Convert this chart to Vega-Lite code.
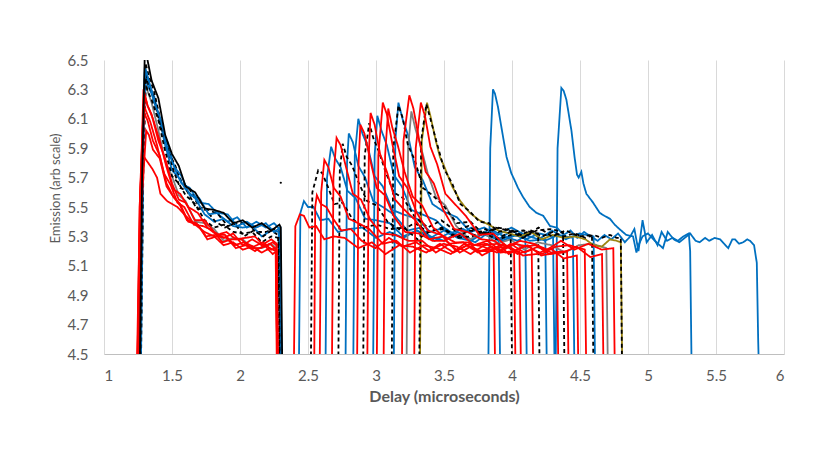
{
  "$schema": "https://vega.github.io/schema/vega-lite/v6.json",
  "autosize": "none",
  "width": 680,
  "height": 294,
  "padding": {"left": 104, "top": 60, "right": 46, "bottom": 113},
  "background": "white",
  "config": {
    "view": {"stroke": null},
    "font": "Lato",
    "axis": {"labelFont": "Lato", "titleFont": "Lato", "labelColor": "#595959", "titleColor": "#595959"}
  },
  "data": {
    "values": [
      {"k":1,"c":"g","x":1.255,"y":4.3},{"k":1,"c":"g","x":1.28,"y":5.8},{"k":1,"c":"g","x":1.30,"y":6.35},{"k":1,"c":"g","x":1.32,"y":6.29},{"k":1,"c":"g","x":1.35,"y":6.21},{"k":1,"c":"g","x":1.40,"y":6.02},{"k":1,"c":"g","x":1.45,"y":5.81},{"k":1,"c":"g","x":1.50,"y":5.71},{"k":1,"c":"g","x":1.55,"y":5.58},{"k":1,"c":"g","x":1.60,"y":5.54},{"k":1,"c":"g","x":1.67,"y":5.40},{"k":1,"c":"g","x":1.74,"y":5.39},{"k":1,"c":"g","x":1.81,"y":5.35},{"k":1,"c":"g","x":1.88,"y":5.27},{"k":1,"c":"g","x":1.95,"y":5.29},{"k":1,"c":"g","x":2.02,"y":5.28},{"k":1,"c":"g","x":2.09,"y":5.22},{"k":1,"c":"g","x":2.16,"y":5.22},{"k":1,"c":"g","x":2.23,"y":5.25},{"k":1,"c":"g","x":2.265,"y":5.22},{"k":1,"c":"g","x":2.275,"y":4.3},
      {"k":2,"c":"b","x":1.258,"y":4.3},{"k":2,"c":"b","x":1.278,"y":5.6},{"k":2,"c":"b","x":1.30,"y":6.45},{"k":2,"c":"b","x":1.33,"y":6.34},{"k":2,"c":"b","x":1.37,"y":6.25},{"k":2,"c":"b","x":1.42,"y":6.05},{"k":2,"c":"b","x":1.47,"y":5.93},{"k":2,"c":"b","x":1.52,"y":5.76},{"k":2,"c":"b","x":1.57,"y":5.66},{"k":2,"c":"b","x":1.63,"y":5.63},{"k":2,"c":"b","x":1.70,"y":5.53},{"k":2,"c":"b","x":1.77,"y":5.52},{"k":2,"c":"b","x":1.84,"y":5.45},{"k":2,"c":"b","x":1.91,"y":5.40},{"k":2,"c":"b","x":1.98,"y":5.43},{"k":2,"c":"b","x":2.05,"y":5.36},{"k":2,"c":"b","x":2.12,"y":5.40},{"k":2,"c":"b","x":2.19,"y":5.36},{"k":2,"c":"b","x":2.25,"y":5.39},{"k":2,"c":"b","x":2.29,"y":5.35},{"k":2,"c":"b","x":2.30,"y":4.3},
      {"k":3,"c":"d","x":1.268,"y":4.3},{"k":3,"c":"d","x":1.288,"y":5.8},{"k":3,"c":"d","x":1.305,"y":6.48},{"k":3,"c":"d","x":1.33,"y":6.39},{"k":3,"c":"d","x":1.37,"y":6.28},{"k":3,"c":"d","x":1.42,"y":6.07},{"k":3,"c":"d","x":1.47,"y":5.88},{"k":3,"c":"d","x":1.52,"y":5.79},{"k":3,"c":"d","x":1.57,"y":5.67},{"k":3,"c":"d","x":1.63,"y":5.62},{"k":3,"c":"d","x":1.70,"y":5.50},{"k":3,"c":"d","x":1.77,"y":5.48},{"k":3,"c":"d","x":1.84,"y":5.45},{"k":3,"c":"d","x":1.91,"y":5.37},{"k":3,"c":"d","x":1.98,"y":5.39},{"k":3,"c":"d","x":2.05,"y":5.39},{"k":3,"c":"d","x":2.12,"y":5.33},{"k":3,"c":"d","x":2.19,"y":5.33},{"k":3,"c":"d","x":2.25,"y":5.35},{"k":3,"c":"d","x":2.293,"y":5.33},{"k":3,"c":"d","x":2.303,"y":4.3},
      {"k":4,"c":"b","x":1.262,"y":4.3},{"k":4,"c":"b","x":1.283,"y":5.7},{"k":4,"c":"b","x":1.30,"y":6.42},{"k":4,"c":"b","x":1.32,"y":6.33},{"k":4,"c":"b","x":1.35,"y":6.27},{"k":4,"c":"b","x":1.40,"y":6.13},{"k":4,"c":"b","x":1.45,"y":5.92},{"k":4,"c":"b","x":1.50,"y":5.75},{"k":4,"c":"b","x":1.55,"y":5.70},{"k":4,"c":"b","x":1.60,"y":5.62},{"k":4,"c":"b","x":1.67,"y":5.56},{"k":4,"c":"b","x":1.74,"y":5.45},{"k":4,"c":"b","x":1.81,"y":5.40},{"k":4,"c":"b","x":1.88,"y":5.42},{"k":4,"c":"b","x":1.95,"y":5.37},{"k":4,"c":"b","x":2.02,"y":5.36},{"k":4,"c":"b","x":2.09,"y":5.37},{"k":4,"c":"b","x":2.16,"y":5.30},{"k":4,"c":"b","x":2.23,"y":5.34},{"k":4,"c":"b","x":2.285,"y":5.33},{"k":4,"c":"b","x":2.295,"y":4.3},
      {"k":5,"c":"d","x":1.27,"y":4.3},{"k":5,"c":"d","x":1.29,"y":5.8},{"k":5,"c":"d","x":1.31,"y":6.40},{"k":5,"c":"d","x":1.33,"y":6.32},{"k":5,"c":"d","x":1.36,"y":6.26},{"k":5,"c":"d","x":1.41,"y":6.07},{"k":5,"c":"d","x":1.46,"y":5.94},{"k":5,"c":"d","x":1.51,"y":5.75},{"k":5,"c":"d","x":1.56,"y":5.63},{"k":5,"c":"d","x":1.61,"y":5.61},{"k":5,"c":"d","x":1.68,"y":5.49},{"k":5,"c":"d","x":1.75,"y":5.48},{"k":5,"c":"d","x":1.82,"y":5.40},{"k":5,"c":"d","x":1.89,"y":5.36},{"k":5,"c":"d","x":1.96,"y":5.39},{"k":5,"c":"d","x":2.03,"y":5.30},{"k":5,"c":"d","x":2.10,"y":5.34},{"k":5,"c":"d","x":2.17,"y":5.30},{"k":5,"c":"d","x":2.23,"y":5.34},{"k":5,"c":"d","x":2.28,"y":5.31},{"k":5,"c":"d","x":2.29,"y":4.3},
      {"k":6,"c":"b","x":1.27,"y":4.3},{"k":6,"c":"b","x":1.29,"y":5.9},{"k":6,"c":"b","x":1.305,"y":6.44},{"k":6,"c":"b","x":1.33,"y":6.36},{"k":6,"c":"b","x":1.37,"y":6.21},{"k":6,"c":"b","x":1.42,"y":6.09},{"k":6,"c":"b","x":1.47,"y":5.88},{"k":6,"c":"b","x":1.52,"y":5.77},{"k":6,"c":"b","x":1.57,"y":5.71},{"k":6,"c":"b","x":1.63,"y":5.58},{"k":6,"c":"b","x":1.70,"y":5.56},{"k":6,"c":"b","x":1.77,"y":5.45},{"k":6,"c":"b","x":1.84,"y":5.46},{"k":6,"c":"b","x":1.91,"y":5.45},{"k":6,"c":"b","x":1.98,"y":5.37},{"k":6,"c":"b","x":2.05,"y":5.40},{"k":6,"c":"b","x":2.12,"y":5.36},{"k":6,"c":"b","x":2.19,"y":5.39},{"k":6,"c":"b","x":2.25,"y":5.33},{"k":6,"c":"b","x":2.297,"y":5.36},{"k":6,"c":"b","x":2.307,"y":4.3},
      {"k":7,"c":"d","x":1.265,"y":4.3},{"k":7,"c":"d","x":1.285,"y":5.8},{"k":7,"c":"d","x":1.30,"y":6.38},{"k":7,"c":"d","x":1.32,"y":6.29},{"k":7,"c":"d","x":1.35,"y":6.23},{"k":7,"c":"d","x":1.40,"y":6.09},{"k":7,"c":"d","x":1.45,"y":5.88},{"k":7,"c":"d","x":1.50,"y":5.71},{"k":7,"c":"d","x":1.55,"y":5.66},{"k":7,"c":"d","x":1.60,"y":5.58},{"k":7,"c":"d","x":1.67,"y":5.52},{"k":7,"c":"d","x":1.74,"y":5.41},{"k":7,"c":"d","x":1.81,"y":5.36},{"k":7,"c":"d","x":1.88,"y":5.38},{"k":7,"c":"d","x":1.95,"y":5.33},{"k":7,"c":"d","x":2.02,"y":5.32},{"k":7,"c":"d","x":2.09,"y":5.33},{"k":7,"c":"d","x":2.16,"y":5.26},{"k":7,"c":"d","x":2.23,"y":5.30},{"k":7,"c":"d","x":2.283,"y":5.29},{"k":7,"c":"d","x":2.293,"y":4.3},
      {"k":8,"c":"r","x":1.243,"y":4.3},{"k":8,"c":"r","x":1.265,"y":5.5},{"k":8,"c":"r","x":1.29,"y":6.20},{"k":8,"c":"r","x":1.31,"y":6.15},{"k":8,"c":"r","x":1.34,"y":6.08},{"k":8,"c":"r","x":1.39,"y":5.92},{"k":8,"c":"r","x":1.44,"y":5.73},{"k":8,"c":"r","x":1.49,"y":5.65},{"k":8,"c":"r","x":1.54,"y":5.53},{"k":8,"c":"r","x":1.59,"y":5.50},{"k":8,"c":"r","x":1.66,"y":5.38},{"k":8,"c":"r","x":1.73,"y":5.37},{"k":8,"c":"r","x":1.80,"y":5.34},{"k":8,"c":"r","x":1.87,"y":5.26},{"k":8,"c":"r","x":1.94,"y":5.28},{"k":8,"c":"r","x":2.01,"y":5.28},{"k":8,"c":"r","x":2.08,"y":5.22},{"k":8,"c":"r","x":2.15,"y":5.22},{"k":8,"c":"r","x":2.22,"y":5.25},{"k":8,"c":"r","x":2.265,"y":5.21},{"k":8,"c":"r","x":2.275,"y":4.3},
      {"k":9,"c":"r","x":1.245,"y":4.3},{"k":9,"c":"r","x":1.268,"y":5.6},{"k":9,"c":"r","x":1.29,"y":6.30},{"k":9,"c":"r","x":1.32,"y":6.19},{"k":9,"c":"r","x":1.36,"y":6.10},{"k":9,"c":"r","x":1.41,"y":5.95},{"k":9,"c":"r","x":1.46,"y":5.77},{"k":9,"c":"r","x":1.51,"y":5.62},{"k":9,"c":"r","x":1.56,"y":5.59},{"k":9,"c":"r","x":1.62,"y":5.50},{"k":9,"c":"r","x":1.69,"y":5.46},{"k":9,"c":"r","x":1.76,"y":5.36},{"k":9,"c":"r","x":1.83,"y":5.31},{"k":9,"c":"r","x":1.90,"y":5.33},{"k":9,"c":"r","x":1.97,"y":5.28},{"k":9,"c":"r","x":2.04,"y":5.29},{"k":9,"c":"r","x":2.11,"y":5.30},{"k":9,"c":"r","x":2.18,"y":5.23},{"k":9,"c":"r","x":2.24,"y":5.26},{"k":9,"c":"r","x":2.268,"y":5.24},{"k":9,"c":"r","x":2.278,"y":4.3},
      {"k":10,"c":"r","x":1.25,"y":4.3},{"k":10,"c":"r","x":1.275,"y":5.5},{"k":10,"c":"r","x":1.31,"y":6.02},{"k":10,"c":"r","x":1.33,"y":5.99},{"k":10,"c":"r","x":1.36,"y":5.89},{"k":10,"c":"r","x":1.41,"y":5.83},{"k":10,"c":"r","x":1.46,"y":5.64},{"k":10,"c":"r","x":1.51,"y":5.57},{"k":10,"c":"r","x":1.56,"y":5.51},{"k":10,"c":"r","x":1.61,"y":5.41},{"k":10,"c":"r","x":1.68,"y":5.39},{"k":10,"c":"r","x":1.75,"y":5.30},{"k":10,"c":"r","x":1.82,"y":5.31},{"k":10,"c":"r","x":1.89,"y":5.31},{"k":10,"c":"r","x":1.96,"y":5.24},{"k":10,"c":"r","x":2.03,"y":5.26},{"k":10,"c":"r","x":2.10,"y":5.23},{"k":10,"c":"r","x":2.17,"y":5.26},{"k":10,"c":"r","x":2.23,"y":5.21},{"k":10,"c":"r","x":2.262,"y":5.22},{"k":10,"c":"r","x":2.272,"y":4.3},
      {"k":11,"c":"r","x":1.245,"y":4.3},{"k":11,"c":"r","x":1.262,"y":5.5},{"k":11,"c":"r","x":1.28,"y":5.86},{"k":11,"c":"r","x":1.31,"y":5.82},{"k":11,"c":"r","x":1.355,"y":5.76},{"k":11,"c":"r","x":1.39,"y":5.70},{"k":11,"c":"r","x":1.415,"y":5.59},{"k":11,"c":"r","x":1.465,"y":5.54},{"k":11,"c":"r","x":1.54,"y":5.50},{"k":11,"c":"r","x":1.60,"y":5.44},{"k":11,"c":"r","x":1.67,"y":5.38},{"k":11,"c":"r","x":1.74,"y":5.33},{"k":11,"c":"r","x":1.81,"y":5.30},{"k":11,"c":"r","x":1.88,"y":5.24},{"k":11,"c":"r","x":1.95,"y":5.26},{"k":11,"c":"r","x":2.02,"y":5.21},{"k":11,"c":"r","x":2.09,"y":5.23},{"k":11,"c":"r","x":2.16,"y":5.19},{"k":11,"c":"r","x":2.22,"y":5.22},{"k":11,"c":"r","x":2.265,"y":5.20},{"k":11,"c":"r","x":2.275,"y":4.3},
      {"k":12,"c":"r","x":1.25,"y":4.3},{"k":12,"c":"r","x":1.275,"y":5.7},{"k":12,"c":"r","x":1.30,"y":6.26},{"k":12,"c":"r","x":1.32,"y":6.19},{"k":12,"c":"r","x":1.35,"y":6.13},{"k":12,"c":"r","x":1.40,"y":5.95},{"k":12,"c":"r","x":1.45,"y":5.83},{"k":12,"c":"r","x":1.50,"y":5.66},{"k":12,"c":"r","x":1.55,"y":5.55},{"k":12,"c":"r","x":1.60,"y":5.53},{"k":12,"c":"r","x":1.67,"y":5.41},{"k":12,"c":"r","x":1.74,"y":5.41},{"k":12,"c":"r","x":1.81,"y":5.33},{"k":12,"c":"r","x":1.88,"y":5.29},{"k":12,"c":"r","x":1.95,"y":5.32},{"k":12,"c":"r","x":2.02,"y":5.24},{"k":12,"c":"r","x":2.09,"y":5.28},{"k":12,"c":"r","x":2.16,"y":5.24},{"k":12,"c":"r","x":2.23,"y":5.28},{"k":12,"c":"r","x":2.27,"y":5.25},{"k":12,"c":"r","x":2.28,"y":4.3},
      {"k":13,"c":"r","x":1.24,"y":4.3},{"k":13,"c":"r","x":1.265,"y":5.6},{"k":13,"c":"r","x":1.29,"y":6.15},{"k":13,"c":"r","x":1.32,"y":6.09},{"k":13,"c":"r","x":1.36,"y":5.95},{"k":13,"c":"r","x":1.41,"y":5.85},{"k":13,"c":"r","x":1.46,"y":5.66},{"k":13,"c":"r","x":1.51,"y":5.57},{"k":13,"c":"r","x":1.56,"y":5.52},{"k":13,"c":"r","x":1.62,"y":5.40},{"k":13,"c":"r","x":1.69,"y":5.38},{"k":13,"c":"r","x":1.76,"y":5.28},{"k":13,"c":"r","x":1.83,"y":5.30},{"k":13,"c":"r","x":1.90,"y":5.29},{"k":13,"c":"r","x":1.97,"y":5.22},{"k":13,"c":"r","x":2.04,"y":5.24},{"k":13,"c":"r","x":2.11,"y":5.20},{"k":13,"c":"r","x":2.18,"y":5.24},{"k":13,"c":"r","x":2.24,"y":5.18},{"k":13,"c":"r","x":2.27,"y":5.20},{"k":13,"c":"r","x":2.28,"y":4.3},
      {"k":14,"c":"k","x":1.262,"y":4.3},{"k":14,"c":"k","x":1.28,"y":5.7},{"k":14,"c":"k","x":1.30,"y":6.55},{"k":14,"c":"k","x":1.32,"y":6.50},{"k":14,"c":"k","x":1.35,"y":6.36},{"k":14,"c":"k","x":1.40,"y":6.24},{"k":14,"c":"k","x":1.45,"y":5.99},{"k":14,"c":"k","x":1.50,"y":5.86},{"k":14,"c":"k","x":1.55,"y":5.78},{"k":14,"c":"k","x":1.60,"y":5.64},{"k":14,"c":"k","x":1.67,"y":5.60},{"k":14,"c":"k","x":1.74,"y":5.49},{"k":14,"c":"k","x":1.81,"y":5.48},{"k":14,"c":"k","x":1.88,"y":5.46},{"k":14,"c":"k","x":1.95,"y":5.39},{"k":14,"c":"k","x":2.02,"y":5.41},{"k":14,"c":"k","x":2.09,"y":5.36},{"k":14,"c":"k","x":2.16,"y":5.39},{"k":14,"c":"k","x":2.23,"y":5.34},{"k":14,"c":"k","x":2.29,"y":5.38},{"k":14,"c":"k","x":2.30,"y":5.36},{"k":14,"c":"k","x":2.312,"y":4.3},
      {"k":15,"c":"b","x":2.432,"y":4.3},{"k":15,"c":"b","x":2.444,"y":5.46},{"k":15,"c":"b","x":2.47,"y":5.54},{"k":15,"c":"b","x":2.50,"y":5.50},{"k":15,"c":"b","x":2.54,"y":5.50},{"k":15,"c":"b","x":2.59,"y":5.41},{"k":15,"c":"b","x":2.65,"y":5.42},{"k":15,"c":"b","x":2.72,"y":5.33},{"k":15,"c":"b","x":2.80,"y":5.35},{"k":15,"c":"b","x":2.90,"y":5.36},{"k":15,"c":"b","x":3.00,"y":5.29},{"k":15,"c":"b","x":3.10,"y":5.33},{"k":15,"c":"b","x":3.20,"y":5.29},{"k":15,"c":"b","x":3.30,"y":5.34},{"k":15,"c":"b","x":3.40,"y":5.30},{"k":15,"c":"b","x":3.50,"y":5.27},{"k":15,"c":"b","x":3.60,"y":5.33},{"k":15,"c":"b","x":3.70,"y":5.28},{"k":15,"c":"b","x":3.80,"y":5.32},{"k":15,"c":"b","x":3.902,"y":5.29},{"k":15,"c":"b","x":3.914,"y":4.3},
      {"k":16,"c":"b","x":2.628,"y":4.3},{"k":16,"c":"b","x":2.64,"y":5.70},{"k":16,"c":"b","x":2.67,"y":5.91},{"k":16,"c":"b","x":2.70,"y":5.83},{"k":16,"c":"b","x":2.74,"y":5.77},{"k":16,"c":"b","x":2.79,"y":5.61},{"k":16,"c":"b","x":2.85,"y":5.56},{"k":16,"c":"b","x":2.92,"y":5.42},{"k":16,"c":"b","x":3.00,"y":5.41},{"k":16,"c":"b","x":3.10,"y":5.39},{"k":16,"c":"b","x":3.20,"y":5.30},{"k":16,"c":"b","x":3.30,"y":5.34},{"k":16,"c":"b","x":3.40,"y":5.29},{"k":16,"c":"b","x":3.50,"y":5.34},{"k":16,"c":"b","x":3.60,"y":5.29},{"k":16,"c":"b","x":3.70,"y":5.27},{"k":16,"c":"b","x":3.80,"y":5.33},{"k":16,"c":"b","x":3.90,"y":5.27},{"k":16,"c":"b","x":4.00,"y":5.31},{"k":16,"c":"b","x":4.098,"y":5.29},{"k":16,"c":"b","x":4.11,"y":4.3},
      {"k":17,"c":"b","x":2.775,"y":4.3},{"k":17,"c":"b","x":2.787,"y":5.80},{"k":17,"c":"b","x":2.80,"y":6.00},{"k":17,"c":"b","x":2.83,"y":5.94},{"k":17,"c":"b","x":2.87,"y":5.78},{"k":17,"c":"b","x":2.92,"y":5.70},{"k":17,"c":"b","x":2.98,"y":5.54},{"k":17,"c":"b","x":3.05,"y":5.50},{"k":17,"c":"b","x":3.13,"y":5.45},{"k":17,"c":"b","x":3.23,"y":5.34},{"k":17,"c":"b","x":3.33,"y":5.36},{"k":17,"c":"b","x":3.43,"y":5.27},{"k":17,"c":"b","x":3.53,"y":5.32},{"k":17,"c":"b","x":3.63,"y":5.30},{"k":17,"c":"b","x":3.73,"y":5.26},{"k":17,"c":"b","x":3.83,"y":5.33},{"k":17,"c":"b","x":3.93,"y":5.27},{"k":17,"c":"b","x":4.03,"y":5.31},{"k":17,"c":"b","x":4.13,"y":5.27},{"k":17,"c":"b","x":4.245,"y":5.28},{"k":17,"c":"b","x":4.257,"y":4.3},
      {"k":18,"c":"b","x":2.832,"y":4.3},{"k":18,"c":"b","x":2.844,"y":5.85},{"k":18,"c":"b","x":2.87,"y":6.10},{"k":18,"c":"b","x":2.90,"y":6.00},{"k":18,"c":"b","x":2.94,"y":5.91},{"k":18,"c":"b","x":2.99,"y":5.71},{"k":18,"c":"b","x":3.05,"y":5.64},{"k":18,"c":"b","x":3.12,"y":5.48},{"k":18,"c":"b","x":3.20,"y":5.45},{"k":18,"c":"b","x":3.30,"y":5.42},{"k":18,"c":"b","x":3.40,"y":5.33},{"k":18,"c":"b","x":3.50,"y":5.36},{"k":18,"c":"b","x":3.60,"y":5.30},{"k":18,"c":"b","x":3.70,"y":5.36},{"k":18,"c":"b","x":3.80,"y":5.31},{"k":18,"c":"b","x":3.90,"y":5.28},{"k":18,"c":"b","x":4.00,"y":5.34},{"k":18,"c":"b","x":4.10,"y":5.28},{"k":18,"c":"b","x":4.20,"y":5.32},{"k":18,"c":"b","x":4.302,"y":5.30},{"k":18,"c":"b","x":4.314,"y":4.3},
      {"k":19,"c":"b","x":2.978,"y":4.3},{"k":19,"c":"b","x":2.99,"y":5.85},{"k":19,"c":"b","x":3.01,"y":6.12},{"k":19,"c":"b","x":3.04,"y":6.02},{"k":19,"c":"b","x":3.08,"y":5.92},{"k":19,"c":"b","x":3.13,"y":5.72},{"k":19,"c":"b","x":3.19,"y":5.64},{"k":19,"c":"b","x":3.26,"y":5.48},{"k":19,"c":"b","x":3.34,"y":5.45},{"k":19,"c":"b","x":3.44,"y":5.41},{"k":19,"c":"b","x":3.54,"y":5.32},{"k":19,"c":"b","x":3.64,"y":5.35},{"k":19,"c":"b","x":3.74,"y":5.30},{"k":19,"c":"b","x":3.84,"y":5.35},{"k":19,"c":"b","x":3.94,"y":5.30},{"k":19,"c":"b","x":4.04,"y":5.27},{"k":19,"c":"b","x":4.14,"y":5.33},{"k":19,"c":"b","x":4.24,"y":5.27},{"k":19,"c":"b","x":4.34,"y":5.31},{"k":19,"c":"b","x":4.448,"y":5.29},{"k":19,"c":"b","x":4.46,"y":4.3},
      {"k":20,"c":"b","x":3.13,"y":4.3},{"k":20,"c":"b","x":3.142,"y":5.95},{"k":20,"c":"b","x":3.165,"y":6.21},{"k":20,"c":"b","x":3.195,"y":6.10},{"k":20,"c":"b","x":3.235,"y":5.99},{"k":20,"c":"b","x":3.285,"y":5.77},{"k":20,"c":"b","x":3.345,"y":5.68},{"k":20,"c":"b","x":3.415,"y":5.52},{"k":20,"c":"b","x":3.495,"y":5.47},{"k":20,"c":"b","x":3.595,"y":5.43},{"k":20,"c":"b","x":3.695,"y":5.33},{"k":20,"c":"b","x":3.795,"y":5.36},{"k":20,"c":"b","x":3.895,"y":5.31},{"k":20,"c":"b","x":3.995,"y":5.36},{"k":20,"c":"b","x":4.095,"y":5.31},{"k":20,"c":"b","x":4.195,"y":5.28},{"k":20,"c":"b","x":4.295,"y":5.34},{"k":20,"c":"b","x":4.395,"y":5.28},{"k":20,"c":"b","x":4.495,"y":5.32},{"k":20,"c":"b","x":4.60,"y":5.30},{"k":20,"c":"b","x":4.612,"y":4.3},
      {"k":21,"c":"b","x":3.825,"y":4.3},{"k":21,"c":"b","x":3.84,"y":5.9},{"k":21,"c":"b","x":3.86,"y":6.30},{"k":21,"c":"b","x":3.875,"y":6.27},{"k":21,"c":"b","x":3.897,"y":6.18},{"k":21,"c":"b","x":3.93,"y":6.00},{"k":21,"c":"b","x":3.96,"y":5.84},{"k":21,"c":"b","x":3.995,"y":5.73},{"k":21,"c":"b","x":4.02,"y":5.68},{"k":21,"c":"b","x":4.044,"y":5.63},{"k":21,"c":"b","x":4.08,"y":5.57},{"k":21,"c":"b","x":4.13,"y":5.50},{"k":21,"c":"b","x":4.18,"y":5.46},{"k":21,"c":"b","x":4.23,"y":5.44},{"k":21,"c":"b","x":4.28,"y":5.37},{"k":21,"c":"b","x":4.33,"y":5.36},{"k":21,"c":"b","x":4.38,"y":5.31},{"k":21,"c":"b","x":4.43,"y":5.34},{"k":21,"c":"b","x":4.48,"y":5.29},{"k":21,"c":"b","x":4.53,"y":5.33},{"k":21,"c":"b","x":4.58,"y":5.30},{"k":21,"c":"b","x":4.63,"y":5.27},{"k":21,"c":"b","x":4.68,"y":5.31},{"k":21,"c":"b","x":4.73,"y":5.28},{"k":21,"c":"b","x":4.78,"y":5.32},{"k":21,"c":"b","x":4.83,"y":5.26},{"k":21,"c":"b","x":4.87,"y":5.30},{"k":21,"c":"b","x":4.90,"y":5.35},{"k":21,"c":"b","x":4.93,"y":5.20},{"k":21,"c":"b","x":4.96,"y":5.41},{"k":21,"c":"b","x":4.99,"y":5.26},{"k":21,"c":"b","x":5.03,"y":5.31},{"k":21,"c":"b","x":5.07,"y":5.24},{"k":21,"c":"b","x":5.10,"y":5.33},{"k":21,"c":"b","x":5.14,"y":5.27},{"k":21,"c":"b","x":5.18,"y":5.29},{"k":21,"c":"b","x":5.22,"y":5.27},{"k":21,"c":"b","x":5.26,"y":5.30},{"k":21,"c":"b","x":5.30,"y":5.32},{"k":21,"c":"b","x":5.31,"y":5.20},{"k":21,"c":"b","x":5.322,"y":4.3},
      {"k":22,"c":"b","x":4.32,"y":4.3},{"k":22,"c":"b","x":4.335,"y":5.9},{"k":22,"c":"b","x":4.363,"y":6.31},{"k":22,"c":"b","x":4.38,"y":6.29},{"k":22,"c":"b","x":4.40,"y":6.23},{"k":22,"c":"b","x":4.437,"y":6.02},{"k":22,"c":"b","x":4.46,"y":5.84},{"k":22,"c":"b","x":4.478,"y":5.72},{"k":22,"c":"b","x":4.49,"y":5.70},{"k":22,"c":"b","x":4.51,"y":5.74},{"k":22,"c":"b","x":4.525,"y":5.66},{"k":22,"c":"b","x":4.547,"y":5.59},{"k":22,"c":"b","x":4.596,"y":5.53},{"k":22,"c":"b","x":4.645,"y":5.46},{"k":22,"c":"b","x":4.68,"y":5.44},{"k":22,"c":"b","x":4.72,"y":5.42},{"k":22,"c":"b","x":4.755,"y":5.38},{"k":22,"c":"b","x":4.79,"y":5.35},{"k":22,"c":"b","x":4.84,"y":5.31},{"k":22,"c":"b","x":4.89,"y":5.30},{"k":22,"c":"b","x":4.915,"y":5.19},{"k":22,"c":"b","x":4.93,"y":5.24},{"k":22,"c":"b","x":4.96,"y":5.30},{"k":22,"c":"b","x":5.00,"y":5.32},{"k":22,"c":"b","x":5.05,"y":5.27},{"k":22,"c":"b","x":5.11,"y":5.22},{"k":22,"c":"b","x":5.145,"y":5.33},{"k":22,"c":"b","x":5.19,"y":5.28},{"k":22,"c":"b","x":5.23,"y":5.26},{"k":22,"c":"b","x":5.27,"y":5.29},{"k":22,"c":"b","x":5.31,"y":5.32},{"k":22,"c":"b","x":5.35,"y":5.27},{"k":22,"c":"b","x":5.38,"y":5.26},{"k":22,"c":"b","x":5.42,"y":5.29},{"k":22,"c":"b","x":5.45,"y":5.27},{"k":22,"c":"b","x":5.49,"y":5.29},{"k":22,"c":"b","x":5.53,"y":5.28},{"k":22,"c":"b","x":5.56,"y":5.25},{"k":22,"c":"b","x":5.59,"y":5.22},{"k":22,"c":"b","x":5.62,"y":5.28},{"k":22,"c":"b","x":5.64,"y":5.28},{"k":22,"c":"b","x":5.67,"y":5.25},{"k":22,"c":"b","x":5.70,"y":5.26},{"k":22,"c":"b","x":5.73,"y":5.28},{"k":22,"c":"b","x":5.75,"y":5.27},{"k":22,"c":"b","x":5.78,"y":5.24},{"k":22,"c":"b","x":5.80,"y":5.12},{"k":22,"c":"b","x":5.81,"y":4.6},{"k":22,"c":"b","x":5.818,"y":4.3},
      {"k":23,"c":"g","x":3.224,"y":4.3},{"k":23,"c":"g","x":3.236,"y":5.90},{"k":23,"c":"g","x":3.26,"y":6.15},{"k":23,"c":"g","x":3.29,"y":6.03},{"k":23,"c":"g","x":3.33,"y":5.91},{"k":23,"c":"g","x":3.38,"y":5.73},{"k":23,"c":"g","x":3.44,"y":5.57},{"k":23,"c":"g","x":3.51,"y":5.51},{"k":23,"c":"g","x":3.59,"y":5.37},{"k":23,"c":"g","x":3.69,"y":5.28},{"k":23,"c":"g","x":3.79,"y":5.33},{"k":23,"c":"g","x":3.89,"y":5.25},{"k":23,"c":"g","x":3.99,"y":5.28},{"k":23,"c":"g","x":4.09,"y":5.21},{"k":23,"c":"g","x":4.19,"y":5.26},{"k":23,"c":"g","x":4.29,"y":5.24},{"k":23,"c":"g","x":4.39,"y":5.19},{"k":23,"c":"g","x":4.49,"y":5.24},{"k":23,"c":"g","x":4.59,"y":5.25},{"k":23,"c":"g","x":4.694,"y":5.22},{"k":23,"c":"g","x":4.706,"y":4.3},
      {"k":24,"c":"o","x":3.322,"y":4.3},{"k":24,"c":"o","x":3.337,"y":5.95},{"k":24,"c":"o","x":3.375,"y":6.21},{"k":24,"c":"o","x":3.40,"y":6.12},{"k":24,"c":"o","x":3.44,"y":5.95},{"k":24,"c":"o","x":3.47,"y":5.84},{"k":24,"c":"o","x":3.50,"y":5.78},{"k":24,"c":"o","x":3.56,"y":5.64},{"k":24,"c":"o","x":3.62,"y":5.54},{"k":24,"c":"o","x":3.69,"y":5.46},{"k":24,"c":"o","x":3.76,"y":5.41},{"k":24,"c":"o","x":3.83,"y":5.38},{"k":24,"c":"o","x":3.90,"y":5.34},{"k":24,"c":"o","x":3.98,"y":5.32},{"k":24,"c":"o","x":4.06,"y":5.30},{"k":24,"c":"o","x":4.14,"y":5.33},{"k":24,"c":"o","x":4.22,"y":5.28},{"k":24,"c":"o","x":4.30,"y":5.31},{"k":24,"c":"o","x":4.38,"y":5.29},{"k":24,"c":"o","x":4.46,"y":5.30},{"k":24,"c":"o","x":4.54,"y":5.28},{"k":24,"c":"o","x":4.60,"y":5.24},{"k":24,"c":"o","x":4.66,"y":5.23},{"k":24,"c":"o","x":4.72,"y":5.28},{"k":24,"c":"o","x":4.77,"y":5.27},{"k":24,"c":"o","x":4.80,"y":5.26},{"k":24,"c":"o","x":4.812,"y":4.3},
      {"k":25,"c":"d","x":2.52,"y":4.3},{"k":25,"c":"d","x":2.532,"y":5.60},{"k":25,"c":"d","x":2.575,"y":5.75},{"k":25,"c":"d","x":2.605,"y":5.73},{"k":25,"c":"d","x":2.645,"y":5.64},{"k":25,"c":"d","x":2.695,"y":5.52},{"k":25,"c":"d","x":2.755,"y":5.53},{"k":25,"c":"d","x":2.825,"y":5.42},{"k":25,"c":"d","x":2.905,"y":5.36},{"k":25,"c":"d","x":3.005,"y":5.38},{"k":25,"c":"d","x":3.105,"y":5.35},{"k":25,"c":"d","x":3.205,"y":5.36},{"k":25,"c":"d","x":3.305,"y":5.28},{"k":25,"c":"d","x":3.405,"y":5.34},{"k":25,"c":"d","x":3.505,"y":5.35},{"k":25,"c":"d","x":3.605,"y":5.29},{"k":25,"c":"d","x":3.705,"y":5.30},{"k":25,"c":"d","x":3.805,"y":5.35},{"k":25,"c":"d","x":3.905,"y":5.28},{"k":25,"c":"d","x":3.99,"y":5.31},{"k":25,"c":"d","x":4.002,"y":4.3},
      {"k":26,"c":"d","x":2.722,"y":4.3},{"k":26,"c":"d","x":2.734,"y":5.75},{"k":26,"c":"d","x":2.755,"y":5.93},{"k":26,"c":"d","x":2.785,"y":5.84},{"k":26,"c":"d","x":2.825,"y":5.78},{"k":26,"c":"d","x":2.875,"y":5.66},{"k":26,"c":"d","x":2.935,"y":5.54},{"k":26,"c":"d","x":3.005,"y":5.51},{"k":26,"c":"d","x":3.085,"y":5.40},{"k":26,"c":"d","x":3.185,"y":5.34},{"k":26,"c":"d","x":3.285,"y":5.39},{"k":26,"c":"d","x":3.385,"y":5.33},{"k":26,"c":"d","x":3.485,"y":5.36},{"k":26,"c":"d","x":3.585,"y":5.29},{"k":26,"c":"d","x":3.685,"y":5.34},{"k":26,"c":"d","x":3.785,"y":5.33},{"k":26,"c":"d","x":3.885,"y":5.28},{"k":26,"c":"d","x":3.985,"y":5.33},{"k":26,"c":"d","x":4.085,"y":5.34},{"k":26,"c":"d","x":4.192,"y":5.32},{"k":26,"c":"d","x":4.204,"y":4.3},
      {"k":27,"c":"d","x":2.905,"y":4.3},{"k":27,"c":"d","x":2.917,"y":5.85},{"k":27,"c":"d","x":2.95,"y":6.07},{"k":27,"c":"d","x":2.98,"y":5.97},{"k":27,"c":"d","x":3.02,"y":5.88},{"k":27,"c":"d","x":3.07,"y":5.74},{"k":27,"c":"d","x":3.13,"y":5.60},{"k":27,"c":"d","x":3.20,"y":5.56},{"k":27,"c":"d","x":3.28,"y":5.44},{"k":27,"c":"d","x":3.38,"y":5.36},{"k":27,"c":"d","x":3.48,"y":5.41},{"k":27,"c":"d","x":3.58,"y":5.34},{"k":27,"c":"d","x":3.68,"y":5.37},{"k":27,"c":"d","x":3.78,"y":5.31},{"k":27,"c":"d","x":3.88,"y":5.36},{"k":27,"c":"d","x":3.98,"y":5.34},{"k":27,"c":"d","x":4.08,"y":5.29},{"k":27,"c":"d","x":4.18,"y":5.34},{"k":27,"c":"d","x":4.28,"y":5.35},{"k":27,"c":"d","x":4.375,"y":5.33},{"k":27,"c":"d","x":4.387,"y":4.3},
      {"k":28,"c":"d","x":3.115,"y":4.3},{"k":28,"c":"d","x":3.127,"y":5.90},{"k":28,"c":"d","x":3.165,"y":6.19},{"k":28,"c":"d","x":3.195,"y":6.11},{"k":28,"c":"d","x":3.235,"y":5.92},{"k":28,"c":"d","x":3.285,"y":5.82},{"k":28,"c":"d","x":3.345,"y":5.63},{"k":28,"c":"d","x":3.415,"y":5.58},{"k":28,"c":"d","x":3.495,"y":5.51},{"k":28,"c":"d","x":3.595,"y":5.39},{"k":28,"c":"d","x":3.695,"y":5.40},{"k":28,"c":"d","x":3.795,"y":5.31},{"k":28,"c":"d","x":3.895,"y":5.36},{"k":28,"c":"d","x":3.995,"y":5.34},{"k":28,"c":"d","x":4.095,"y":5.30},{"k":28,"c":"d","x":4.195,"y":5.36},{"k":28,"c":"d","x":4.295,"y":5.30},{"k":28,"c":"d","x":4.395,"y":5.34},{"k":28,"c":"d","x":4.495,"y":5.30},{"k":28,"c":"d","x":4.588,"y":5.31},{"k":28,"c":"d","x":4.60,"y":4.3},
      {"k":29,"c":"d","x":3.317,"y":4.3},{"k":29,"c":"d","x":3.332,"y":5.95},{"k":29,"c":"d","x":3.37,"y":6.20},{"k":29,"c":"d","x":3.40,"y":6.10},{"k":29,"c":"d","x":3.44,"y":5.96},{"k":29,"c":"d","x":3.47,"y":5.86},{"k":29,"c":"d","x":3.50,"y":5.76},{"k":29,"c":"d","x":3.56,"y":5.66},{"k":29,"c":"d","x":3.62,"y":5.52},{"k":29,"c":"d","x":3.69,"y":5.47},{"k":29,"c":"d","x":3.76,"y":5.40},{"k":29,"c":"d","x":3.83,"y":5.39},{"k":29,"c":"d","x":3.90,"y":5.33},{"k":29,"c":"d","x":3.98,"y":5.35},{"k":29,"c":"d","x":4.06,"y":5.31},{"k":29,"c":"d","x":4.14,"y":5.34},{"k":29,"c":"d","x":4.22,"y":5.30},{"k":29,"c":"d","x":4.30,"y":5.33},{"k":29,"c":"d","x":4.38,"y":5.30},{"k":29,"c":"d","x":4.46,"y":5.32},{"k":29,"c":"d","x":4.54,"y":5.29},{"k":29,"c":"d","x":4.60,"y":5.31},{"k":29,"c":"d","x":4.66,"y":5.29},{"k":29,"c":"d","x":4.72,"y":5.31},{"k":29,"c":"d","x":4.77,"y":5.29},{"k":29,"c":"d","x":4.80,"y":5.29},{"k":29,"c":"d","x":4.81,"y":4.3},
      {"k":30,"c":"r","x":2.395,"y":4.3},{"k":30,"c":"r","x":2.407,"y":5.37},{"k":30,"c":"r","x":2.44,"y":5.45},{"k":30,"c":"r","x":2.47,"y":5.44},{"k":30,"c":"r","x":2.51,"y":5.36},{"k":30,"c":"r","x":2.56,"y":5.37},{"k":30,"c":"r","x":2.62,"y":5.28},{"k":30,"c":"r","x":2.69,"y":5.30},{"k":30,"c":"r","x":2.77,"y":5.29},{"k":30,"c":"r","x":2.87,"y":5.22},{"k":30,"c":"r","x":2.97,"y":5.26},{"k":30,"c":"r","x":3.07,"y":5.18},{"k":30,"c":"r","x":3.17,"y":5.24},{"k":30,"c":"r","x":3.27,"y":5.23},{"k":30,"c":"r","x":3.37,"y":5.19},{"k":30,"c":"r","x":3.47,"y":5.25},{"k":30,"c":"r","x":3.57,"y":5.19},{"k":30,"c":"r","x":3.67,"y":5.24},{"k":30,"c":"r","x":3.77,"y":5.20},{"k":30,"c":"r","x":3.865,"y":5.20},{"k":30,"c":"r","x":3.877,"y":4.3},
      {"k":31,"c":"r","x":2.545,"y":4.3},{"k":31,"c":"r","x":2.553,"y":5.50},{"k":31,"c":"r","x":2.565,"y":5.58},{"k":31,"c":"r","x":2.595,"y":5.52},{"k":31,"c":"r","x":2.635,"y":5.50},{"k":31,"c":"r","x":2.685,"y":5.42},{"k":31,"c":"r","x":2.745,"y":5.34},{"k":31,"c":"r","x":2.815,"y":5.35},{"k":31,"c":"r","x":2.895,"y":5.27},{"k":31,"c":"r","x":2.995,"y":5.22},{"k":31,"c":"r","x":3.095,"y":5.29},{"k":31,"c":"r","x":3.195,"y":5.23},{"k":31,"c":"r","x":3.295,"y":5.26},{"k":31,"c":"r","x":3.395,"y":5.20},{"k":31,"c":"r","x":3.495,"y":5.25},{"k":31,"c":"r","x":3.595,"y":5.23},{"k":31,"c":"r","x":3.695,"y":5.18},{"k":31,"c":"r","x":3.795,"y":5.24},{"k":31,"c":"r","x":3.895,"y":5.25},{"k":31,"c":"r","x":4.015,"y":5.21},{"k":31,"c":"r","x":4.027,"y":4.3},
      {"k":32,"c":"r","x":2.585,"y":4.3},{"k":32,"c":"r","x":2.597,"y":5.60},{"k":32,"c":"r","x":2.62,"y":5.82},{"k":32,"c":"r","x":2.65,"y":5.77},{"k":32,"c":"r","x":2.69,"y":5.63},{"k":32,"c":"r","x":2.74,"y":5.57},{"k":32,"c":"r","x":2.80,"y":5.42},{"k":32,"c":"r","x":2.87,"y":5.39},{"k":32,"c":"r","x":2.95,"y":5.35},{"k":32,"c":"r","x":3.05,"y":5.25},{"k":32,"c":"r","x":3.15,"y":5.27},{"k":32,"c":"r","x":3.25,"y":5.19},{"k":32,"c":"r","x":3.35,"y":5.24},{"k":32,"c":"r","x":3.45,"y":5.22},{"k":32,"c":"r","x":3.55,"y":5.18},{"k":32,"c":"r","x":3.65,"y":5.25},{"k":32,"c":"r","x":3.75,"y":5.19},{"k":32,"c":"r","x":3.85,"y":5.23},{"k":32,"c":"r","x":3.95,"y":5.19},{"k":32,"c":"r","x":4.055,"y":5.20},{"k":32,"c":"r","x":4.067,"y":4.3},
      {"k":33,"c":"r","x":2.675,"y":4.3},{"k":33,"c":"r","x":2.687,"y":5.70},{"k":33,"c":"r","x":2.71,"y":5.97},{"k":33,"c":"r","x":2.74,"y":5.92},{"k":33,"c":"r","x":2.78,"y":5.77},{"k":33,"c":"r","x":2.83,"y":5.59},{"k":33,"c":"r","x":2.89,"y":5.55},{"k":33,"c":"r","x":2.96,"y":5.41},{"k":33,"c":"r","x":3.04,"y":5.32},{"k":33,"c":"r","x":3.14,"y":5.31},{"k":33,"c":"r","x":3.24,"y":5.27},{"k":33,"c":"r","x":3.34,"y":5.27},{"k":33,"c":"r","x":3.44,"y":5.19},{"k":33,"c":"r","x":3.54,"y":5.25},{"k":33,"c":"r","x":3.64,"y":5.26},{"k":33,"c":"r","x":3.74,"y":5.20},{"k":33,"c":"r","x":3.84,"y":5.21},{"k":33,"c":"r","x":3.94,"y":5.25},{"k":33,"c":"r","x":4.04,"y":5.18},{"k":33,"c":"r","x":4.145,"y":5.21},{"k":33,"c":"r","x":4.157,"y":4.3},
      {"k":34,"c":"r","x":2.86,"y":4.3},{"k":34,"c":"r","x":2.872,"y":5.80},{"k":34,"c":"r","x":2.885,"y":6.06},{"k":34,"c":"r","x":2.915,"y":6.00},{"k":34,"c":"r","x":2.955,"y":5.83},{"k":34,"c":"r","x":3.005,"y":5.63},{"k":34,"c":"r","x":3.065,"y":5.58},{"k":34,"c":"r","x":3.135,"y":5.43},{"k":34,"c":"r","x":3.215,"y":5.33},{"k":34,"c":"r","x":3.315,"y":5.32},{"k":34,"c":"r","x":3.415,"y":5.27},{"k":34,"c":"r","x":3.515,"y":5.27},{"k":34,"c":"r","x":3.615,"y":5.19},{"k":34,"c":"r","x":3.715,"y":5.24},{"k":34,"c":"r","x":3.815,"y":5.25},{"k":34,"c":"r","x":3.915,"y":5.19},{"k":34,"c":"r","x":4.015,"y":5.20},{"k":34,"c":"r","x":4.115,"y":5.24},{"k":34,"c":"r","x":4.215,"y":5.17},{"k":34,"c":"r","x":4.33,"y":5.19},{"k":34,"c":"r","x":4.342,"y":4.3},
      {"k":35,"c":"r","x":2.935,"y":4.3},{"k":35,"c":"r","x":2.947,"y":5.85},{"k":35,"c":"r","x":2.96,"y":6.14},{"k":35,"c":"r","x":2.99,"y":6.06},{"k":35,"c":"r","x":3.03,"y":5.86},{"k":35,"c":"r","x":3.08,"y":5.74},{"k":35,"c":"r","x":3.14,"y":5.55},{"k":35,"c":"r","x":3.21,"y":5.48},{"k":35,"c":"r","x":3.29,"y":5.41},{"k":35,"c":"r","x":3.39,"y":5.28},{"k":35,"c":"r","x":3.49,"y":5.30},{"k":35,"c":"r","x":3.59,"y":5.20},{"k":35,"c":"r","x":3.69,"y":5.25},{"k":35,"c":"r","x":3.79,"y":5.23},{"k":35,"c":"r","x":3.89,"y":5.19},{"k":35,"c":"r","x":3.99,"y":5.25},{"k":35,"c":"r","x":4.09,"y":5.19},{"k":35,"c":"r","x":4.19,"y":5.23},{"k":35,"c":"r","x":4.29,"y":5.19},{"k":35,"c":"r","x":4.405,"y":5.20},{"k":35,"c":"r","x":4.417,"y":4.3},
      {"k":36,"c":"r","x":3.005,"y":4.3},{"k":36,"c":"r","x":3.017,"y":5.85},{"k":36,"c":"r","x":3.05,"y":6.21},{"k":36,"c":"r","x":3.08,"y":6.13},{"k":36,"c":"r","x":3.12,"y":5.93},{"k":36,"c":"r","x":3.17,"y":5.71},{"k":36,"c":"r","x":3.23,"y":5.63},{"k":36,"c":"r","x":3.30,"y":5.46},{"k":36,"c":"r","x":3.38,"y":5.34},{"k":36,"c":"r","x":3.48,"y":5.31},{"k":36,"c":"r","x":3.58,"y":5.26},{"k":36,"c":"r","x":3.68,"y":5.26},{"k":36,"c":"r","x":3.78,"y":5.17},{"k":36,"c":"r","x":3.88,"y":5.22},{"k":36,"c":"r","x":3.98,"y":5.23},{"k":36,"c":"r","x":4.08,"y":5.17},{"k":36,"c":"r","x":4.18,"y":5.18},{"k":36,"c":"r","x":4.28,"y":5.22},{"k":36,"c":"r","x":4.38,"y":5.15},{"k":36,"c":"r","x":4.477,"y":5.17},{"k":36,"c":"r","x":4.489,"y":4.3},
      {"k":37,"c":"r","x":3.055,"y":4.3},{"k":37,"c":"r","x":3.067,"y":5.85},{"k":37,"c":"r","x":3.09,"y":6.17},{"k":37,"c":"r","x":3.12,"y":6.04},{"k":37,"c":"r","x":3.16,"y":5.92},{"k":37,"c":"r","x":3.21,"y":5.74},{"k":37,"c":"r","x":3.27,"y":5.57},{"k":37,"c":"r","x":3.34,"y":5.51},{"k":37,"c":"r","x":3.42,"y":5.36},{"k":37,"c":"r","x":3.52,"y":5.28},{"k":37,"c":"r","x":3.62,"y":5.32},{"k":37,"c":"r","x":3.72,"y":5.24},{"k":37,"c":"r","x":3.82,"y":5.27},{"k":37,"c":"r","x":3.92,"y":5.20},{"k":37,"c":"r","x":4.02,"y":5.25},{"k":37,"c":"r","x":4.12,"y":5.23},{"k":37,"c":"r","x":4.22,"y":5.18},{"k":37,"c":"r","x":4.32,"y":5.23},{"k":37,"c":"r","x":4.42,"y":5.24},{"k":37,"c":"r","x":4.535,"y":5.21},{"k":37,"c":"r","x":4.547,"y":4.3},
      {"k":38,"c":"r","x":3.19,"y":4.3},{"k":38,"c":"r","x":3.202,"y":5.95},{"k":38,"c":"r","x":3.245,"y":6.26},{"k":38,"c":"r","x":3.275,"y":6.17},{"k":38,"c":"r","x":3.315,"y":5.97},{"k":38,"c":"r","x":3.365,"y":5.74},{"k":38,"c":"r","x":3.425,"y":5.66},{"k":38,"c":"r","x":3.495,"y":5.48},{"k":38,"c":"r","x":3.575,"y":5.35},{"k":38,"c":"r","x":3.675,"y":5.33},{"k":38,"c":"r","x":3.775,"y":5.28},{"k":38,"c":"r","x":3.875,"y":5.27},{"k":38,"c":"r","x":3.975,"y":5.18},{"k":38,"c":"r","x":4.075,"y":5.23},{"k":38,"c":"r","x":4.175,"y":5.24},{"k":38,"c":"r","x":4.275,"y":5.18},{"k":38,"c":"r","x":4.375,"y":5.19},{"k":38,"c":"r","x":4.475,"y":5.23},{"k":38,"c":"r","x":4.575,"y":5.16},{"k":38,"c":"r","x":4.662,"y":5.18},{"k":38,"c":"r","x":4.674,"y":4.3},
      {"k":39,"c":"r","x":3.28,"y":4.3},{"k":39,"c":"r","x":3.292,"y":5.90},{"k":39,"c":"r","x":3.33,"y":6.21},{"k":39,"c":"r","x":3.36,"y":6.12},{"k":39,"c":"r","x":3.40,"y":5.91},{"k":39,"c":"r","x":3.45,"y":5.79},{"k":39,"c":"r","x":3.51,"y":5.59},{"k":39,"c":"r","x":3.58,"y":5.52},{"k":39,"c":"r","x":3.66,"y":5.44},{"k":39,"c":"r","x":3.76,"y":5.31},{"k":39,"c":"r","x":3.86,"y":5.32},{"k":39,"c":"r","x":3.96,"y":5.23},{"k":39,"c":"r","x":4.06,"y":5.27},{"k":39,"c":"r","x":4.16,"y":5.25},{"k":39,"c":"r","x":4.26,"y":5.21},{"k":39,"c":"r","x":4.36,"y":5.27},{"k":39,"c":"r","x":4.46,"y":5.21},{"k":39,"c":"r","x":4.56,"y":5.25},{"k":39,"c":"r","x":4.66,"y":5.21},{"k":39,"c":"r","x":4.745,"y":5.22},{"k":39,"c":"r","x":4.757,"y":4.3}
    ]
  },
  "encoding": {
    "x": {
      "field": "x",
      "type": "quantitative",
      "scale": {"domain": [1, 6], "nice": false, "zero": false},
      "axis": {
        "values": [1, 1.5, 2, 2.5, 3, 3.5, 4, 4.5, 5, 5.5, 6],
        "format": "~g",
        "grid": true,
        "gridColor": "#D9D9D9",
        "domainColor": "#BFBFBF",
        "ticks": false,
        "labelPadding": 14,
        "labelFontSize": 15,
        "title": "Delay  (microseconds)",
        "titleFontWeight": "bold",
        "titleFontSize": 16,
        "titlePadding": 5
      }
    },
    "y": {
      "field": "y",
      "type": "quantitative",
      "scale": {"domain": [4.5, 6.5], "nice": false, "zero": false},
      "axis": {
        "values": [4.5, 4.7, 4.9, 5.1, 5.3, 5.5, 5.7, 5.9, 6.1, 6.3, 6.5],
        "format": ".1f",
        "grid": false,
        "domain": false,
        "ticks": false,
        "labelPadding": 16,
        "labelFontSize": 15,
        "title": "Emission (arb scale)",
        "titleFontWeight": "normal",
        "titleFontSize": 13,
        "titlePadding": 5,
        "titleY": 128
      }
    }
  },
  "layer": [
    {
      "mark": {"type": "line", "clip": true, "strokeWidth": 1.8},
      "encoding": {
        "detail": {"field": "k", "type": "nominal"},
        "color": {
          "field": "c",
          "type": "nominal",
          "scale": {"domain": ["b", "r", "k", "d", "g", "o"], "range": ["#0070C0", "#FF0000", "#000000", "#000000", "#7F7F7F", "#9C8410"]},
          "legend": null
        },
        "strokeDash": {
          "field": "c",
          "type": "nominal",
          "scale": {"domain": ["b", "r", "k", "d", "g", "o"], "range": [[1, 0], [1, 0], [1, 0], [4, 3], [1, 0], [1, 0]]},
          "legend": null
        }
      }
    },
    {
      "data": {"values": [{"x": 2.30, "y": 5.665}]},
      "mark": {"type": "point", "filled": true, "size": 5, "color": "#000000", "opacity": 1}
    }
  ]
}
